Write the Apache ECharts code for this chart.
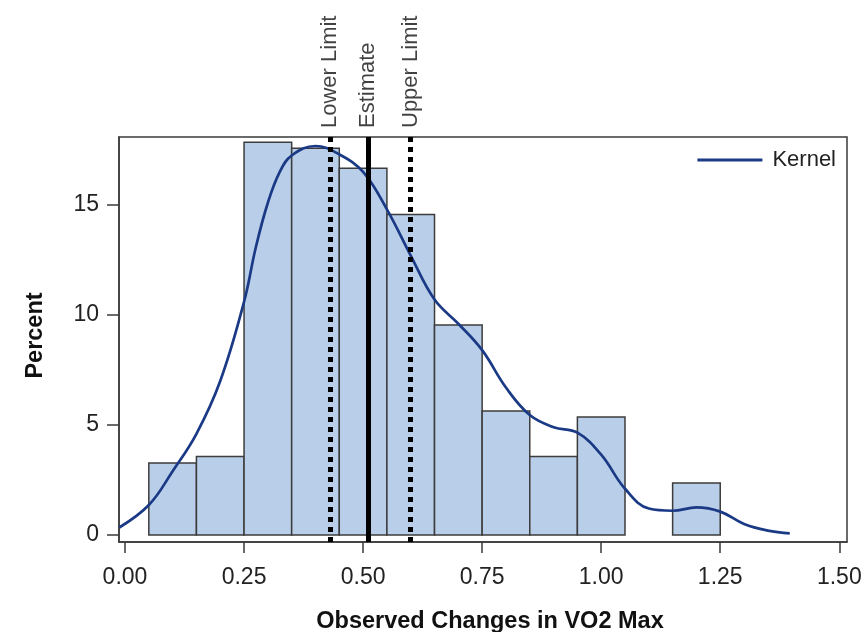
<!DOCTYPE html>
<html><head><meta charset="utf-8">
<script src="https://cdn.jsdelivr.net/npm/echarts@6/dist/echarts.min.js"></script>
<style>html,body{margin:0;padding:0;background:#fff}#c{width:866px;height:632px}</style>
</head><body><div id="c"></div>
<script>
// Histogram bins (lower/upper edges) and percent heights
const binLo = [0.05,0.15,0.25,0.35,0.45,0.55,0.65,0.75,0.85,0.95,1.05,1.15];
const binHi = [0.15,0.25,0.35,0.45,0.55,0.65,0.75,0.85,0.95,1.05,1.15,1.25];
const percents = [3.27,3.57,17.85,17.58,16.67,14.57,9.54,5.64,3.57,5.36,0,2.36];

// Kernel density curve
const kernelX = [-0.012,0.05,0.10,0.15,0.20,0.25,0.275,0.30,0.325,0.35,0.40,0.45,0.50,0.55,0.60,0.65,0.70,0.75,0.80,0.85,0.90,0.95,1.00,1.05,1.10,1.15,1.20,1.25,1.30,1.35,1.396];
const kernelY = [0.34,1.36,2.9,4.6,7.0,10.6,13.1,15.1,16.5,17.25,17.68,17.3,16.5,14.8,12.7,10.7,9.6,8.4,6.7,5.45,4.9,4.65,3.65,2.1,1.2,1.1,1.25,1.06,0.5,0.2,0.07];

// Reference lines
const limitNames = ['Lower Limit','Estimate','Upper Limit'];
const limitValues = [0.43,0.51,0.60];

// Tick labels
const xTicks = [0,0.25,0.5,0.75,1,1.25,1.5];
const yTicks = [0,5,10,15];

const X_MIN = -0.0126, X_MAX = 1.5162, Y_MIN = -0.32, Y_MAX = 18.09;
const FONT = "'Liberation Sans', Arial, sans-serif";

const chart = echarts.init(document.getElementById('c'), null, {renderer:'canvas'});
const barData = binLo.map((lo,i)=>[lo, binHi[i], percents[i]]);
const kernelData = kernelX.map((x,i)=>[x, kernelY[i]]);
const limitData = limitValues.map((v,i)=>({name: limitNames[i], value:[v, Y_MAX]}));

chart.setOption({
  animation:false,
  backgroundColor:'#fff',
  grid:{left:119, right:19, top:137, bottom:90, containLabel:false, outerBoundsMode:'none',
    show:true, borderColor:'#3a3a3a', borderWidth:1.5, backgroundColor:'transparent'},
  legend:{
    data:[{name:'Kernel', icon:'rect'}], right:30, top:149, padding:0, itemWidth:65, itemHeight:3, itemGap:10,
    textStyle:{fontFamily:FONT, fontSize:22, color:'#222', padding:[0,0,0,5]}
  },
  xAxis:{
    type:'value', min:X_MIN, max:X_MAX, name:'Observed Changes in VO2 Max', nameLocation:'middle', nameGap:68,
    nameTextStyle:{fontFamily:FONT, fontSize:23.5, fontWeight:'bold', color:'#111', padding:[0,0,0,14]},
    axisLine:{show:true, onZero:false, lineStyle:{color:'#3a3a3a', width:1.5}},
    axisTick:{show:true, length:11, customValues:xTicks, lineStyle:{color:'#3a3a3a', width:1.5}},
    axisLabel:{customValues:xTicks, margin:24, fontFamily:FONT, fontSize:23, color:'#222', formatter:v=>v.toFixed(2)},
    splitLine:{show:false}
  },
  yAxis:{
    type:'value', min:Y_MIN, max:Y_MAX, name:'Percent', nameLocation:'middle', nameGap:71,
    nameTextStyle:{fontFamily:FONT, fontSize:23.5, fontWeight:'bold', color:'#111', padding:[0,0,0,8]},
    axisLine:{show:true, onZero:false, lineStyle:{color:'#3a3a3a', width:1.5}},
    axisTick:{show:true, length:12, customValues:yTicks, lineStyle:{color:'#3a3a3a', width:1.5}},
    axisLabel:{customValues:yTicks, margin:20, fontFamily:FONT, fontSize:23, color:'#222'},
    splitLine:{show:false}
  },
  series:[
    {
      type:'custom', name:'Histogram', data:barData, z:2,
      renderItem:function(params, api){
        const p0 = api.coord([api.value(0), api.value(2)]);
        const p1 = api.coord([api.value(1), 0]);
        if (api.value(2) <= 0) return null;
        return {type:'rect', shape:{x:p0[0], y:p0[1], width:p1[0]-p0[0], height:p1[1]-p0[1]},
          style:{fill:'#b9cee8', stroke:'#3c3c3c', lineWidth:1.5}};
      }
    },
    {
      type:'line', name:'Kernel', data:kernelData, smooth:0.4, symbol:'none', showSymbol:false, z:4,
      lineStyle:{color:'#1b3a86', width:2.7}, itemStyle:{color:'#1b3a86'}
    },
    {
      type:'scatter', name:'Limits', data:limitData, symbolSize:0, clip:false, z:5,
      label:{show:true, position:'top', distance:9, rotate:90, align:'left', verticalAlign:'middle',
        formatter:p=>p.name, fontFamily:FONT, fontSize:22, color:'#111'},
      markLine:{
        silent:true, symbol:'none', label:{show:false},
        data:[
          {xAxis:limitValues[0], lineStyle:{color:'#000', width:5, type:[5,5]}},
          {xAxis:limitValues[1], lineStyle:{color:'#000', width:5, type:'solid'}},
          {xAxis:limitValues[2], lineStyle:{color:'#000', width:5, type:[5,5]}}
        ]
      }
    }
  ]
});
</script></body></html>
